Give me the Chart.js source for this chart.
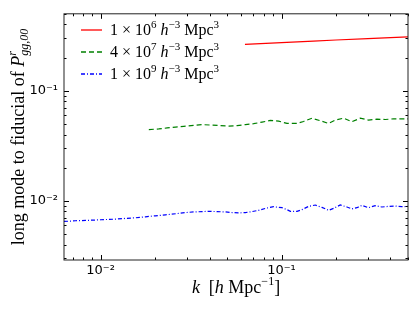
<!DOCTYPE html>
<html>
<head>
<meta charset="utf-8">
<title>long mode to fiducial</title>
<script src="https://cdn.jsdelivr.net/npm/chart.js@4/dist/chart.umd.min.js"></script>
<style>
  body { margin: 0; background: #fff; }
  #wrap { width: 417px; height: 313px; }
</style>
</head>
<body>
<div id="wrap"><canvas id="myChart" width="417" height="313"></canvas></div>
<script>
// k in h/Mpc
const kRed = [0.0628, 0.1, 0.15, 0.2, 0.3, 0.4, 0.5];
const pRed = [0.264, 0.274, 0.2825, 0.289, 0.2975, 0.304, 0.309];

const kGreen = [0.01848, 0.02098, 0.02334, 0.02594, 0.02883, 0.03272, 0.0364, 0.04046, 0.04596, 0.05106,
  0.05681, 0.06313, 0.07015, 0.07805, 0.08672, 0.09638, 0.1072, 0.1218, 0.1324, 0.1474,
  0.1637, 0.182, 0.1981, 0.2202, 0.2449, 0.2722, 0.3025, 0.3365, 0.3739, 0.4156, 0.4719, 0.5];
const pGreen = [0.0444, 0.04495, 0.0459, 0.0468, 0.0475, 0.0485, 0.0492, 0.0488, 0.0482, 0.0478,
  0.0482, 0.0492, 0.0502, 0.0519, 0.0537, 0.053, 0.0505, 0.0505, 0.0526, 0.0563,
  0.0534, 0.0505, 0.0541, 0.0563, 0.0523, 0.0563, 0.0541, 0.0552, 0.0548, 0.0556, 0.0556, 0.0556];

const kBlue = [0.00628, 0.00683, 0.00728, 0.00826, 0.00918, 0.01, 0.01089, 0.0121, 0.01374, 0.0156,
  0.01771, 0.02011, 0.02284, 0.0265, 0.02944, 0.03272, 0.0364, 0.0396, 0.04406, 0.04895,
  0.05331, 0.05796, 0.06313, 0.06873, 0.07472, 0.08317, 0.09046, 0.1006, 0.1072, 0.1119,
  0.1218, 0.1298, 0.1411, 0.1536, 0.1673, 0.182, 0.1939, 0.2111, 0.2298, 0.2449,
  0.261, 0.2781, 0.3025, 0.3294, 0.3585, 0.39, 0.4246, 0.4624, 0.5];
const pBlue = [0.0065, 0.00654, 0.00659, 0.00664, 0.00668, 0.00673, 0.00677, 0.00682, 0.00692, 0.00701,
  0.00716, 0.00731, 0.00746, 0.00766, 0.00782, 0.00793, 0.00798, 0.00803, 0.00798, 0.00793,
  0.00782, 0.00777, 0.00782, 0.00798, 0.0082, 0.00861, 0.00884, 0.00866, 0.00832, 0.00803,
  0.00803, 0.00832, 0.0089, 0.00916, 0.00872, 0.0082, 0.00854, 0.00916, 0.00879, 0.00844,
  0.00866, 0.00908, 0.00866, 0.00903, 0.00879, 0.0089, 0.00897, 0.00884, 0.0089];

const labels = ['1|6', '4|7', '1|9'];   // mantissa|exponent for the legend text
const xMin = 0.00628, xMax = 0.5;
const yMin = 0.0029, yMax = 0.5;

const SERIF = '"Liberation Serif", "DejaVu Serif", serif';

function pts(ks, ps) {
  return ks.map(function(k, i) { return {x: k, y: ps[i]}; });
}

function supLabel(v) {
  var e = Math.log10(v);
  if (Math.abs(e - Math.round(e)) > 1e-6) return '';
  var map = {'-': '⁻', '0': '⁰', '1': '¹', '2': '²', '3': '³'};
  return '10' + String(Math.round(e)).split('').map(function(c) { return map[c]; }).join('');
}

// draws a run of text pieces; piece = {t, it, sz, dy}
function richWidth(ctx, parts, size) {
  var w = 0;
  parts.forEach(function(p) {
    ctx.font = (p.it ? 'italic ' : '') + (p.sz || size) + 'px ' + SERIF;
    if (!p.noAdv) w += ctx.measureText(p.t).width;
  });
  return w;
}
function drawRich(ctx, parts, x, y, size) {
  parts.forEach(function(p) {
    ctx.font = (p.it ? 'italic ' : '') + (p.sz || size) + 'px ' + SERIF;
    ctx.fillText(p.t, x, y + (p.dy || 0));
    if (!p.noAdv) x += ctx.measureText(p.t).width;
  });
  return x;
}

const decorPlugin = {
  id: 'decor',
  afterDraw: function(chart) {
    var ctx = chart.ctx, a = chart.chartArea;
    var xs = chart.scales.x, ys = chart.scales.y;
    ctx.save();
    // inward ticks on all four sides
    ctx.strokeStyle = '#000';
    ctx.lineWidth = 1;
    ctx.beginPath();
    for (var d = -3; d <= 0; d++) {
      for (var m = 1; m <= 9; m++) {
        var v = m * Math.pow(10, d);
        var len = m === 1 ? 5 : 2.5;
        if (v >= xMin && v <= xMax) {
          var px = Math.round(xs.getPixelForValue(v)) + 0.5;
          ctx.moveTo(px, a.bottom); ctx.lineTo(px, a.bottom - len);
          ctx.moveTo(px, a.top); ctx.lineTo(px, a.top + len);
        }
        if (v >= yMin && v <= yMax) {
          var py = Math.round(ys.getPixelForValue(v)) + 0.5;
          ctx.moveTo(a.left, py); ctx.lineTo(a.left + len, py);
          ctx.moveTo(a.right, py); ctx.lineTo(a.right - len, py);
        }
      }
    }
    ctx.stroke();
    ctx.strokeStyle = '#222';
    ctx.strokeRect(a.left, a.top, a.right - a.left, a.bottom - a.top);

    ctx.fillStyle = '#000';
    ctx.textBaseline = 'alphabetic';
    ctx.textAlign = 'left';

    // legend
    var rowY = [30, 52, 74];
    chart.data.datasets.forEach(function(ds, i) {
      ctx.strokeStyle = ds.borderColor;
      ctx.lineWidth = 1.3;
      ctx.setLineDash(ds.borderDash || []);
      ctx.beginPath();
      ctx.moveTo(81, rowY[i]); ctx.lineTo(102, rowY[i]);
      ctx.stroke();
      ctx.setLineDash([]);
      var lp = labels[i].split('|');
      drawRich(ctx, [
        {t: lp[0] + ' × 10'}, {t: lp[1], sz: 11, dy: -7},
        {t: ' '}, {t: 'h', it: true}, {t: '−3', sz: 11, dy: -7},
        {t: ' Mpc'}, {t: '3', sz: 11, dy: -7}
      ], 110, rowY[i] + 5, 16);
    });

    // x title
    var xParts = [{t: 'k', it: true}, {t: '  ['}, {t: 'h', it: true}, {t: ' Mpc'},
      {t: '−1', sz: 12, dy: -8}, {t: ']'}];
    var w = richWidth(ctx, xParts, 18);
    drawRich(ctx, xParts, (a.left + a.right) / 2 - w / 2, 293, 18);

    // y title, rotated
    var yParts = [{t: 'long mode to fiducial of '}, {t: 'P', it: true},
      {t: 'r', it: true, sz: 12, dy: -8, noAdv: true}, {t: 'gg,00', it: true, sz: 12, dy: 4}];
    ctx.translate(24, (a.top + a.bottom) / 2);
    ctx.rotate(-Math.PI / 2);
    var wy = richWidth(ctx, yParts, 18);
    drawRich(ctx, yParts, -wy / 2, 0, 18);
    ctx.restore();
  }
};

var ctx = document.getElementById('myChart');
var myChart = new Chart(ctx, {
  type: 'scatter',
  data: {
    datasets: [{
      data: pts(kRed, pRed),
      borderColor: '#ff0000',
      borderWidth: 1.2
    }, {
      data: pts(kGreen, pGreen),
      borderColor: '#008000',
      borderWidth: 1.2,
      borderDash: [5, 3]
    }, {
      data: pts(kBlue, pBlue),
      borderColor: '#0000ff',
      borderWidth: 1.2,
      borderDash: [4, 2, 1, 2]
    }]
  },
  options: {
    responsive: false,
    animation: false,
    devicePixelRatio: 1,
    showLine: true,
    elements: { point: { radius: 0, hoverRadius: 0 }, line: { tension: 0 } },
    layout: { padding: { left: 0, right: 9, top: 10, bottom: 0 } },
    plugins: { legend: { display: false }, tooltip: { enabled: false } },
    scales: {
      x: {
        type: 'logarithmic',
        min: xMin, max: xMax,
        grid: { display: false, drawTicks: false },
        border: { display: false },
        ticks: {
          autoSkip: false, maxRotation: 0, padding: 3, color: '#000',
          font: { family: '"DejaVu Sans"', size: 13 },
          callback: function(v) { return supLabel(v); }
        },
        afterFit: function(s) { s.height = 53; }
      },
      y: {
        type: 'logarithmic',
        min: yMin, max: yMax,
        grid: { display: false, drawTicks: false },
        border: { display: false },
        ticks: {
          autoSkip: false, padding: 6, color: '#000',
          font: { family: '"DejaVu Sans"', size: 13 },
          callback: function(v) { return supLabel(v); }
        },
        afterFit: function(s) { s.width = 64; }
      }
    }
  },
  plugins: [decorPlugin]
});
</script>
</body>
</html>
